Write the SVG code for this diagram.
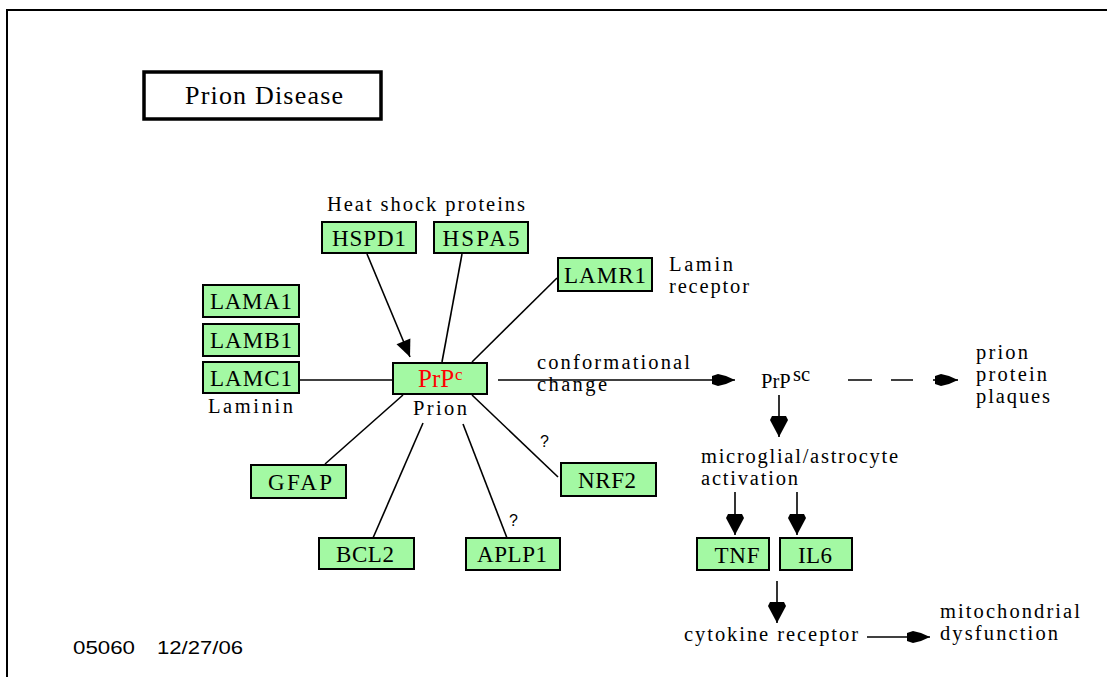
<svg xmlns="http://www.w3.org/2000/svg" width="1107" height="677" viewBox="0 0 1107 677">
<style>
.node rect{fill:#a3f9a3;stroke:#000;stroke-width:2}
.lbl{font-family:"Liberation Serif",serif;font-size:23px;fill:#000;text-anchor:middle}
.t{font-family:"Liberation Serif",serif;font-size:20.5px;fill:#000}
.s{font-family:"Liberation Sans",sans-serif;fill:#000}
.conn line,.conn path{stroke:#000;stroke-width:1.6;fill:none}
</style>
<defs>
<marker id="dart" markerUnits="userSpaceOnUse" viewBox="-24 -8 25 16" refX="0" refY="0" markerWidth="25" markerHeight="16" orient="auto">
<path d="M0,0 L-9,-4 L-17,-6 L-23,-4 L-23,4 L-17,6 L-9,4 Z" fill="#000"/>
</marker>
<marker id="wedge" markerUnits="userSpaceOnUse" viewBox="-22 -11 23 22" refX="0" refY="0" markerWidth="23" markerHeight="22" orient="auto">
<path d="M0,0 L-17,-9 L-21,-7 L-21,7 L-17,9 Z" fill="#000"/>
</marker>
<marker id="tri" markerUnits="userSpaceOnUse" viewBox="-18 -9 19 18" refX="0" refY="0" markerWidth="19" markerHeight="18" orient="auto">
<path d="M0,0 L-17,-7.5 L-17,7.5 Z" fill="#000"/>
</marker>
</defs>
<rect x="7" y="10" width="1200" height="700" fill="#fff" stroke="#000" stroke-width="2"/>

<g id="title">
<rect x="144" y="72" width="237" height="47" fill="#fff" stroke="#000" stroke-width="3.5"/>
<text x="185" y="104" font-family="Liberation Serif, serif" font-size="26" textLength="158" lengthAdjust="spacing">Prion Disease</text>
</g>

<g class="conn" id="connectors">
<line x1="367" y1="254" x2="410" y2="357" marker-end="url(#tri)"/>
<line x1="462" y1="254" x2="442" y2="362"/>
<line x1="557" y1="278" x2="472" y2="362"/>
<line x1="299" y1="380" x2="393" y2="380"/>
<line x1="403" y1="395" x2="325" y2="464"/>
<line x1="423" y1="423" x2="373" y2="538"/>
<line x1="463" y1="424" x2="507" y2="538"/>
<line x1="472" y1="395" x2="558" y2="477"/>
<line x1="498" y1="380" x2="735" y2="380" marker-end="url(#dart)"/>
<line x1="848" y1="380" x2="913" y2="380" stroke-dasharray="24,19"/>
<line x1="933" y1="380" x2="958" y2="380" marker-end="url(#dart)"/>
<line x1="779" y1="395" x2="779" y2="437" marker-end="url(#wedge)"/>
<line x1="735" y1="492" x2="735" y2="535" marker-end="url(#wedge)"/>
<line x1="797" y1="492" x2="797" y2="535" marker-end="url(#wedge)"/>
<line x1="777" y1="581" x2="777" y2="623" marker-end="url(#wedge)"/>
<line x1="867" y1="637" x2="930" y2="637" marker-end="url(#dart)"/>
</g>

<g id="HSPD1" class="node"><rect x="322" y="222" width="94" height="31"/><text class="lbl" x="369" y="246" textLength="74" lengthAdjust="spacing">HSPD1</text></g>
<g id="HSPA5" class="node"><rect x="434" y="222" width="94" height="31"/><text class="lbl" x="481" y="246" textLength="77" lengthAdjust="spacing">HSPA5</text></g>
<g id="LAMR1" class="node"><rect x="558" y="258" width="94" height="33"/><text class="lbl" x="605" y="283" textLength="82" lengthAdjust="spacing">LAMR1</text></g>
<g id="LAMA1" class="node"><rect x="203" y="285" width="96" height="32"/><text class="lbl" x="251" y="309" textLength="82" lengthAdjust="spacing">LAMA1</text></g>
<g id="LAMB1" class="node"><rect x="203" y="324" width="96" height="32"/><text class="lbl" x="251" y="348" textLength="82" lengthAdjust="spacing">LAMB1</text></g>
<g id="LAMC1" class="node"><rect x="203" y="362" width="96" height="31"/><text class="lbl" x="251" y="386" textLength="82" lengthAdjust="spacing">LAMC1</text></g>
<g id="PrPc" class="node"><rect x="393" y="363" width="94" height="31"/><text x="418" y="387" font-family="Liberation Serif, serif" font-size="25" fill="#ff0000">PrP</text><text x="455" y="380" font-family="Liberation Serif, serif" font-size="17" fill="#ff0000">c</text></g>
<g id="GFAP" class="node"><rect x="251" y="465" width="95" height="33"/><text class="lbl" x="300" y="490" textLength="64" lengthAdjust="spacing">GFAP</text></g>
<g id="NRF2" class="node"><rect x="561" y="463" width="95" height="33"/><text class="lbl" x="607" y="488" textLength="58" lengthAdjust="spacing">NRF2</text></g>
<g id="BCL2" class="node"><rect x="319" y="538" width="95" height="31"/><text class="lbl" x="365" y="562" textLength="58" lengthAdjust="spacing">BCL2</text></g>
<g id="APLP1" class="node"><rect x="466" y="538" width="94" height="32"/><text class="lbl" x="512" y="562" textLength="70" lengthAdjust="spacing">APLP1</text></g>
<g id="TNF" class="node"><rect x="697" y="538" width="72" height="32"/><text class="lbl" x="737" y="563" textLength="45" lengthAdjust="spacing">TNF</text></g>
<g id="IL6" class="node"><rect x="780" y="538" width="72" height="32"/><text class="lbl" x="815" y="563" textLength="34" lengthAdjust="spacing">IL6</text></g>

<g id="labels">
<text class="t" x="327" y="211" font-size="21.5" textLength="198" lengthAdjust="spacing">Heat shock proteins</text>
<text class="t" x="208" y="413" font-size="21.5" textLength="85" lengthAdjust="spacing">Laminin</text>
<text class="t" x="669" y="271" textLength="64" lengthAdjust="spacing">Lamin</text>
<text class="t" x="669" y="293" textLength="80" lengthAdjust="spacing">receptor</text>
<text class="t" x="413" y="415" font-size="21.5" textLength="54" lengthAdjust="spacing">Prion</text>
<text class="t" x="537" y="369" textLength="153" lengthAdjust="spacing">conformational</text>
<text class="t" x="537" y="391" textLength="70" lengthAdjust="spacing">change</text>
<text class="t" x="761" y="388" font-size="24">PrP</text>
<text class="t" x="793" y="381" font-size="17">sc</text>
<text class="t" x="976" y="359" textLength="52" lengthAdjust="spacing">prion</text>
<text class="t" x="976" y="381" textLength="71" lengthAdjust="spacing">protein</text>
<text class="t" x="976" y="403" textLength="74" lengthAdjust="spacing">plaques</text>
<text class="t" x="701" y="463" textLength="197" lengthAdjust="spacing">microglial/astrocyte</text>
<text class="t" x="701" y="485" textLength="97" lengthAdjust="spacing">activation</text>
<text class="t" x="684" y="641" font-size="21.5" textLength="174" lengthAdjust="spacing">cytokine receptor</text>
<text class="t" x="940" y="618" textLength="140" lengthAdjust="spacing">mitochondrial</text>
<text class="t" x="940" y="640" textLength="118" lengthAdjust="spacing">dysfunction</text>
<text class="s" x="540" y="447" font-size="16">?</text>
<text class="s" x="509" y="526" font-size="16">?</text>
<text class="s" x="73" y="654" font-size="19" textLength="62" lengthAdjust="spacingAndGlyphs">05060</text>
<text class="s" x="157" y="654" font-size="19" textLength="86" lengthAdjust="spacingAndGlyphs">12/27/06</text>
</g>
</svg>
